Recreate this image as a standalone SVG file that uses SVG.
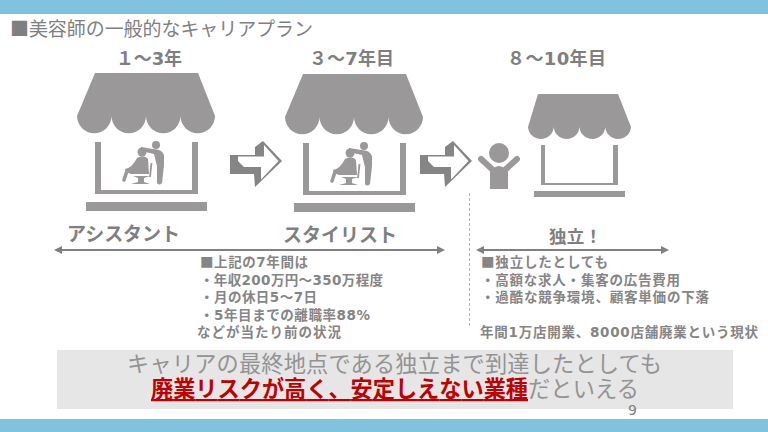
<svg xmlns="http://www.w3.org/2000/svg" width="768" height="432" viewBox="0 0 768 432">
<style>
text{font-family:"DejaVu Sans","Noto Sans CJK JP",sans-serif;fill:#7f7f7f}
.b{font-weight:700}
.sq{font-family:"Noto Sans CJK JP",sans-serif}
.list{font-size:13.5px;font-weight:700;fill:#858585}
.big{font-size:22.2px;fill:#939393;font-weight:400}
.red{fill:#c00000;font-weight:700;text-decoration:underline}
.s{fill:#9a9899}
.ln{stroke:#808080;stroke-width:2;fill:none;marker-start:url(#h);marker-end:url(#h)}
</style>
<defs>
<marker id="h" viewBox="0 0 8 8" refX="6" refY="4" markerWidth="4" markerHeight="4" orient="auto-start-reverse"><path d="M0,0L8,4L0,8Z" fill="#808080"/></marker>
<g id="big-shop">
<path class="s" d="M95,73H198L215,116A17.25,17.25 0 0 1 180.500,116A17.25,17.25 0 0 1 146,116A17.25,17.25 0 0 1 111.500,116A17.25,17.25 0 0 1 77,116Z"/>
<path class="s" d="M95,142H101V190H192V142H198V194H95Z"/>
<rect class="s" x="86" y="202" width="121" height="9"/>
<circle class="s" cx="156" cy="145" r="4"/>
<path class="s" d="M141,147L153,149Q162,149 164,155L164,165L162,183Q159,186 157,183L157,166L154,154L141,151Z"/>
<circle class="s" cx="142" cy="152" r="4.500"/>
<path class="s" d="M137,158Q144,154 148,159L149,174L131,174L126,172L125,169Q132,168 137,158Z"/>
<path d="M127,171L124,180" stroke="#9a9899" stroke-width="3.500" stroke-linecap="round"/>
<path d="M151.500,163L150,177" stroke="#9a9899" stroke-width="1.800"/>
<path class="s" d="M133,176H150L144,178V182L150,184H131L138,182V178Z"/>
</g>
<g id="sketch-arrow">
<path fill="#858585" d="M230,155L255,155V147L263,141L282,161L255,187L254,174H230Z"/>
<path fill="#fff" d="M238,156.500H264L264,145L278.500,161L261,179.500L261,167H244L238,161Z"/>
</g>
</defs>
<rect width="768" height="432" fill="#fff"/>
<rect id="top-bar" width="768" height="14" fill="#7fc3de"/>
<rect id="bottom-bar" y="419" width="768" height="13" fill="#7fc3de"/>
<text id="title" x="10" y="36" font-size="19" textLength="303"><tspan class="sq">■</tspan>美容師の一般的なキャリアプラン</text>

<g id="stage-1">
<text class="b" x="116" y="65" font-size="18" textLength="66">１～3年</text>
<use href="#big-shop"/>
<text class="b" x="67" y="241" font-size="19" textLength="113">アシスタント</text>
</g>
<g id="stage-2">
<text class="b" x="309" y="65" font-size="18" textLength="85">３～7年目</text>
<use href="#big-shop" x="208" y="1"/>
<text class="b" x="283" y="242" font-size="19" textLength="114">スタイリスト</text>
</g>
<g id="person">
<circle class="s" cx="499" cy="153" r="10"/>
<path class="s" d="M490,189V172Q499,160 508,172V189Z"/>
<path d="M481,159L493,170M517,159L505,170" stroke="#9a9899" stroke-width="6" stroke-linecap="round" fill="none"/>
</g>
<g id="stage-3">
<text class="b" x="507" y="65" font-size="18" textLength="99">８～10年目</text>
<path class="s" d="M538,94H618L631,127A12.900,12.900 0 0 1 605.250,127A12.900,12.900 0 0 1 579.500,127A12.900,12.900 0 0 1 553.750,127A12.900,12.900 0 0 1 528,127Z"/>
<path class="s" d="M541,145H545V183H613V145H618V185H541Z"/>
<rect class="s" x="534" y="191" width="91" height="6"/>
<text class="b" x="549" y="243" font-size="17.500" textLength="53">独立！</text>
</g>
<g id="connectors">
<use href="#sketch-arrow"/>
<use href="#sketch-arrow" x="190"/>
<path class="ln" d="M56,250H443"/>
<path class="ln" d="M478,250H667"/>
<path d="M469.500,193V326" stroke="#b5b5b5" stroke-width="1" stroke-dasharray="3 2" fill="none"/>
</g>
<g id="note-left">
<text class="list" x="200" y="267" textLength="108"><tspan class="sq">■</tspan>上記の7年間は</text>
<text class="list" x="200" y="285" textLength="183">・年収200万円～350万程度</text>
<text class="list" x="200" y="302" textLength="117">・月の休日5～7日</text>
<text class="list" x="200" y="320" textLength="170">・5年目までの離職率88%</text>
<text class="list" x="197" y="337" textLength="144">などが当たり前の状況</text>
</g>
<g id="note-right">
<text class="list" x="481" y="267" textLength="127"><tspan class="sq">■</tspan>独立したとしても</text>
<text class="list" x="481" y="285" textLength="199">・高額な求人・集客の広告費用</text>
<text class="list" x="481" y="302" textLength="228">・過酷な競争環境、顧客単価の下落</text>
<text class="list" x="480" y="337" textLength="278">年間1万店開業、8000店舗廃業という現状</text>
</g>
<g id="conclusion">
<rect x="57" y="350" width="676" height="59" fill="#e6e6e6"/>
<text class="big" x="127" y="372" textLength="535">キャリアの最終地点である独立まで到達したとしても</text>
<text class="big red" x="151" y="397" textLength="377">廃業リスクが高く、安定しえない業種</text>
<text class="big" x="528" y="397" textLength="111">だといえる</text>
</g>
<text id="page-number" x="628" y="415" font-size="14" fill="#8e8e8e">9</text>
</svg>
